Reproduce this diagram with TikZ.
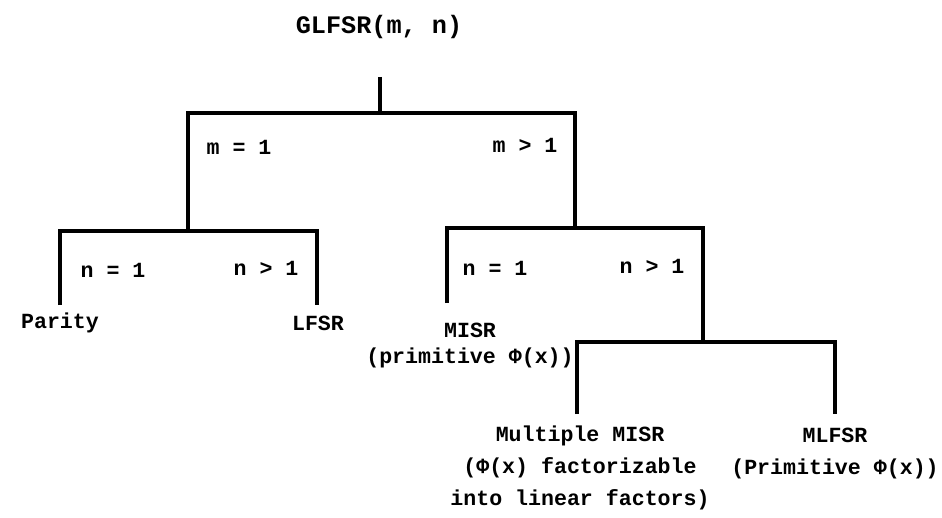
\documentclass[tikz,border=0pt]{standalone}
\usepackage{fontspec}
\setmonofont{Liberation Mono}

\newcommand*\branchwidth{1.6pt}
\newcommand*\textsize{\fontsize{10.8}{16}\selectfont}
\tikzset{
    branch/.style={
        draw,
        line width=\branchwidth,
        line join=miter
    },
    cond/.style={
        font=\ttfamily\bfseries\textsize,
        inner sep=0pt
    },
    leaf/.style={
        font=\ttfamily\bfseries\textsize,
        align=center,
        inner sep=0pt
    },
    title/.style={
        font=\ttfamily\bfseries\fontsize{12.6}{15}\selectfont,
        inner sep=0pt
    }
}

\begin{document}
\begin{tikzpicture}[x=0.5pt,y=-0.5pt]

    \useasboundingbox (0,0) rectangle (942,518);

    % The register family at the top.
    \node[title] (glfsr) at (379,27) {GLFSR(m, n)};
    \coordinate (root) at (380,77);
    \coordinate (msplit) at (380,113);

    % Junctions where the tree splits again.
    \coordinate (nleft) at (188,231);
    \coordinate (nright) at (575,228);
    \coordinate (factor) at (703,342);

    % Ends of the legs above the leaves.
    \coordinate (parityleg) at (60,305);
    \coordinate (lfsrleg) at (317,305);
    \coordinate (misrleg) at (447,303);
    \coordinate (multleg) at (577,414);
    \coordinate (mlfsrleg) at (835,414);

    % Draw the branches.
    \draw[branch] (root) -- (msplit);
    \draw[branch] (nleft) |- (msplit) -| (nright);
    \draw[branch] (parityleg) |- (nleft) -| (lfsrleg);
    \draw[branch] (misrleg) |- (nright) -| (factor);
    \draw[branch] (multleg) |- (factor) -| (mlfsrleg);

    % Write the conditions on each branch.
    \node[cond] (meq) at (239,147) {m = 1};
    \node[cond] (mgt) at (525,145) {m > 1};
    \node[cond] (neqa) at (113,270) {n = 1};
    \node[cond] (ngta) at (266,268) {n > 1};
    \node[cond] (neqb) at (495,268) {n = 1};
    \node[cond] (ngtb) at (652,266) {n > 1};

    % Write the leaves.
    \node[leaf] (parity) at (60,323) {Parity};
    \node[leaf] (lfsr) at (318,323) {LFSR};
    \node[leaf] (misr) at (470,346) {MISR\\[-3pt](primitive Φ(x))};
    \node[leaf] (multmisr) at (580,468) {Multiple MISR\\(Φ(x) factorizable\\into linear factors)};
    \node[leaf] (mlfsr) at (835,454) {MLFSR\\(Primitive Φ(x))};

\end{tikzpicture}
\end{document}
